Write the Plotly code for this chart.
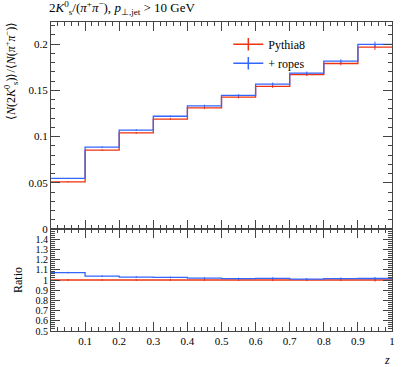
import plotly.graph_objects as go

edges = [0.0, 0.1, 0.2, 0.3, 0.4, 0.5, 0.6, 0.7, 0.8, 0.9, 1.0]
pythia8 = [0.0511, 0.0854, 0.1040, 0.1190, 0.1310, 0.1427, 0.1543, 0.1672, 0.1791, 0.1968]
ropes = [0.0548, 0.0886, 0.1070, 0.1220, 0.1333, 0.1445, 0.1568, 0.1686, 0.1816, 0.1997]
err_pythia8 = [0.0004, 0.0006, 0.0008, 0.0010, 0.0012, 0.0014, 0.0016, 0.0018, 0.0020, 0.0030]
err_ropes = [0.0004, 0.0006, 0.0008, 0.0010, 0.0012, 0.0014, 0.0016, 0.0018, 0.0020, 0.0030]
x_ticks = [0.1, 0.2, 0.3, 0.4, 0.5, 0.6, 0.7, 0.8, 0.9, 1.0]
x_ticklabels = ["0.1", "0.2", "0.3", "0.4", "0.5", "0.6", "0.7", "0.8", "0.9", "1"]
y_ticks = [0.0, 0.05, 0.1, 0.15, 0.2]
y_ticklabels = ["0", "0.05", "0.1", "0.15", "0.2"]
r_ticks = [0.5, 0.6, 0.7, 0.8, 0.9, 1.0, 1.1, 1.2, 1.3, 1.4]
r_ticklabels = ["0.5", "0.6", "0.7", "0.8", "0.9", "1", "1.1", "1.2", "1.3", "1.4"]

RED = "#EE3311"
BLUE = "#3366FF"
FONT = "Liberation Serif"

centers = [(edges[i] + edges[i + 1]) / 2 for i in range(len(edges) - 1)]
ratio_p = [1.0 for _ in pythia8]
ratio_r = [r / p for r, p in zip(ropes, pythia8)]
rerr_p = [e / p for e, p in zip(err_pythia8, pythia8)]
rerr_r = [e / p for e, p in zip(err_ropes, pythia8)]

fig = go.Figure()

def add_hist(vals, errs, color, xa, ya):
    fig.add_trace(go.Scatter(x=edges, y=vals + [vals[-1]], mode="lines", line=dict(color=color, width=1.3, shape="hv"),
                             showlegend=False, xaxis=xa, yaxis=ya, hoverinfo="skip"))
    fig.add_trace(go.Scatter(x=centers, y=vals, mode="markers", marker=dict(size=1, color=color),
                             error_y=dict(type="data", array=errs, color=color, thickness=1, width=0),
                             showlegend=False, xaxis=xa, yaxis=ya, hoverinfo="skip"))

add_hist(pythia8, err_pythia8, RED, "x", "y")
add_hist(ropes, err_ropes, BLUE, "x", "y")
add_hist(ratio_p, rerr_p, RED, "x2", "y2")
add_hist(ratio_r, rerr_r, BLUE, "x2", "y2")

for nm, col in [("Pythia8", RED), ("+ ropes", BLUE)]:
    fig.add_trace(go.Scatter(x=[None], y=[None], mode="lines+markers", name=nm,
                             line=dict(color=col, width=1.5),
                             marker=dict(symbol="line-ns-open", size=9, color=col, line=dict(color=col, width=1.5)),
                             xaxis="x", yaxis="y"))

split = 102 / 309
axcol = "#444444"
common_x = dict(range=[0, 1], ticks="inside", mirror="allticks", showline=True, linecolor=axcol, linewidth=1,
                ticklen=9, tickcolor=axcol, tickvals=x_ticks, showgrid=False, zeroline=False,
                minor=dict(ticks="inside", ticklen=4, dtick=0.02, tick0=0, tickcolor=axcol, showgrid=False))

fig.update_layout(
    width=407, height=367,
    margin=dict(l=51, r=13, t=22, b=36),
    paper_bgcolor="white", plot_bgcolor="white",
    font=dict(family=FONT, size=11, color="black"),
    xaxis=dict(common_x, domain=[0, 1], anchor="y", showticklabels=False),
    yaxis=dict(domain=[split, 1], range=[0, 0.224], ticks="inside", mirror="allticks", showline=True,
               linecolor=axcol, ticklen=9, tickcolor=axcol, tickvals=y_ticks, ticktext=y_ticklabels,
               showgrid=False, zeroline=False,
               minor=dict(ticks="inside", ticklen=4, dtick=0.01, tick0=0, tickcolor=axcol, showgrid=False)),
    xaxis2=dict(common_x, domain=[0, 1], anchor="y2", ticktext=x_ticklabels, showticklabels=True),
    yaxis2=dict(domain=[0, split], range=[0.5, 1.5], ticks="inside", mirror="allticks", showline=True,
                linecolor=axcol, ticklen=9, tickcolor=axcol, tickvals=r_ticks, ticktext=r_ticklabels,
                showgrid=False, zeroline=False, tickfont=dict(size=10),
                minor=dict(ticks="inside", ticklen=4, dtick=0.02, tick0=0.5, tickcolor=axcol, showgrid=False),
                title=dict(text="Ratio", font=dict(size=12), standoff=10)),
    legend=dict(x=0.52, y=0.975, xanchor="left", yanchor="top", bgcolor="rgba(0,0,0,0)",
                font=dict(family=FONT, size=12), itemwidth=30, tracegroupgap=0),
    annotations=[
        dict(text="2<i>K</i><sup>0</sup><sub>s</sub>/(<i>π</i><sup>+</sup><i>π</i><sup>−</sup>), <i>p</i><sub>⊥,jet</sub> > 10 GeV",
             xref="paper", yref="paper", x=-0.012, y=1.0, yshift=3, xanchor="left", yanchor="bottom",
             showarrow=False, font=dict(size=13)),
        dict(text="⟨<i>N</i>(2<i>K</i><sup>0</sup><sub>s</sub>)⟩/⟨<i>N</i>(<i>π</i><sup>+</sup><i>π</i><sup>−</sup>)⟩",
             xref="paper", yref="paper", x=-0.117, y=1.0, yshift=2, xanchor="center", yanchor="top",
             textangle=-90, showarrow=False, font=dict(size=12)),
        dict(text="<i>z</i>", xref="paper", yref="paper", x=1.0, y=0, xanchor="right", yanchor="top",
             yshift=-20, showarrow=False, font=dict(size=12)),
    ],
)

fig.write_html("out.html", config={"displayModeBar": False},
               post_script="document.body.style.margin='0';")
